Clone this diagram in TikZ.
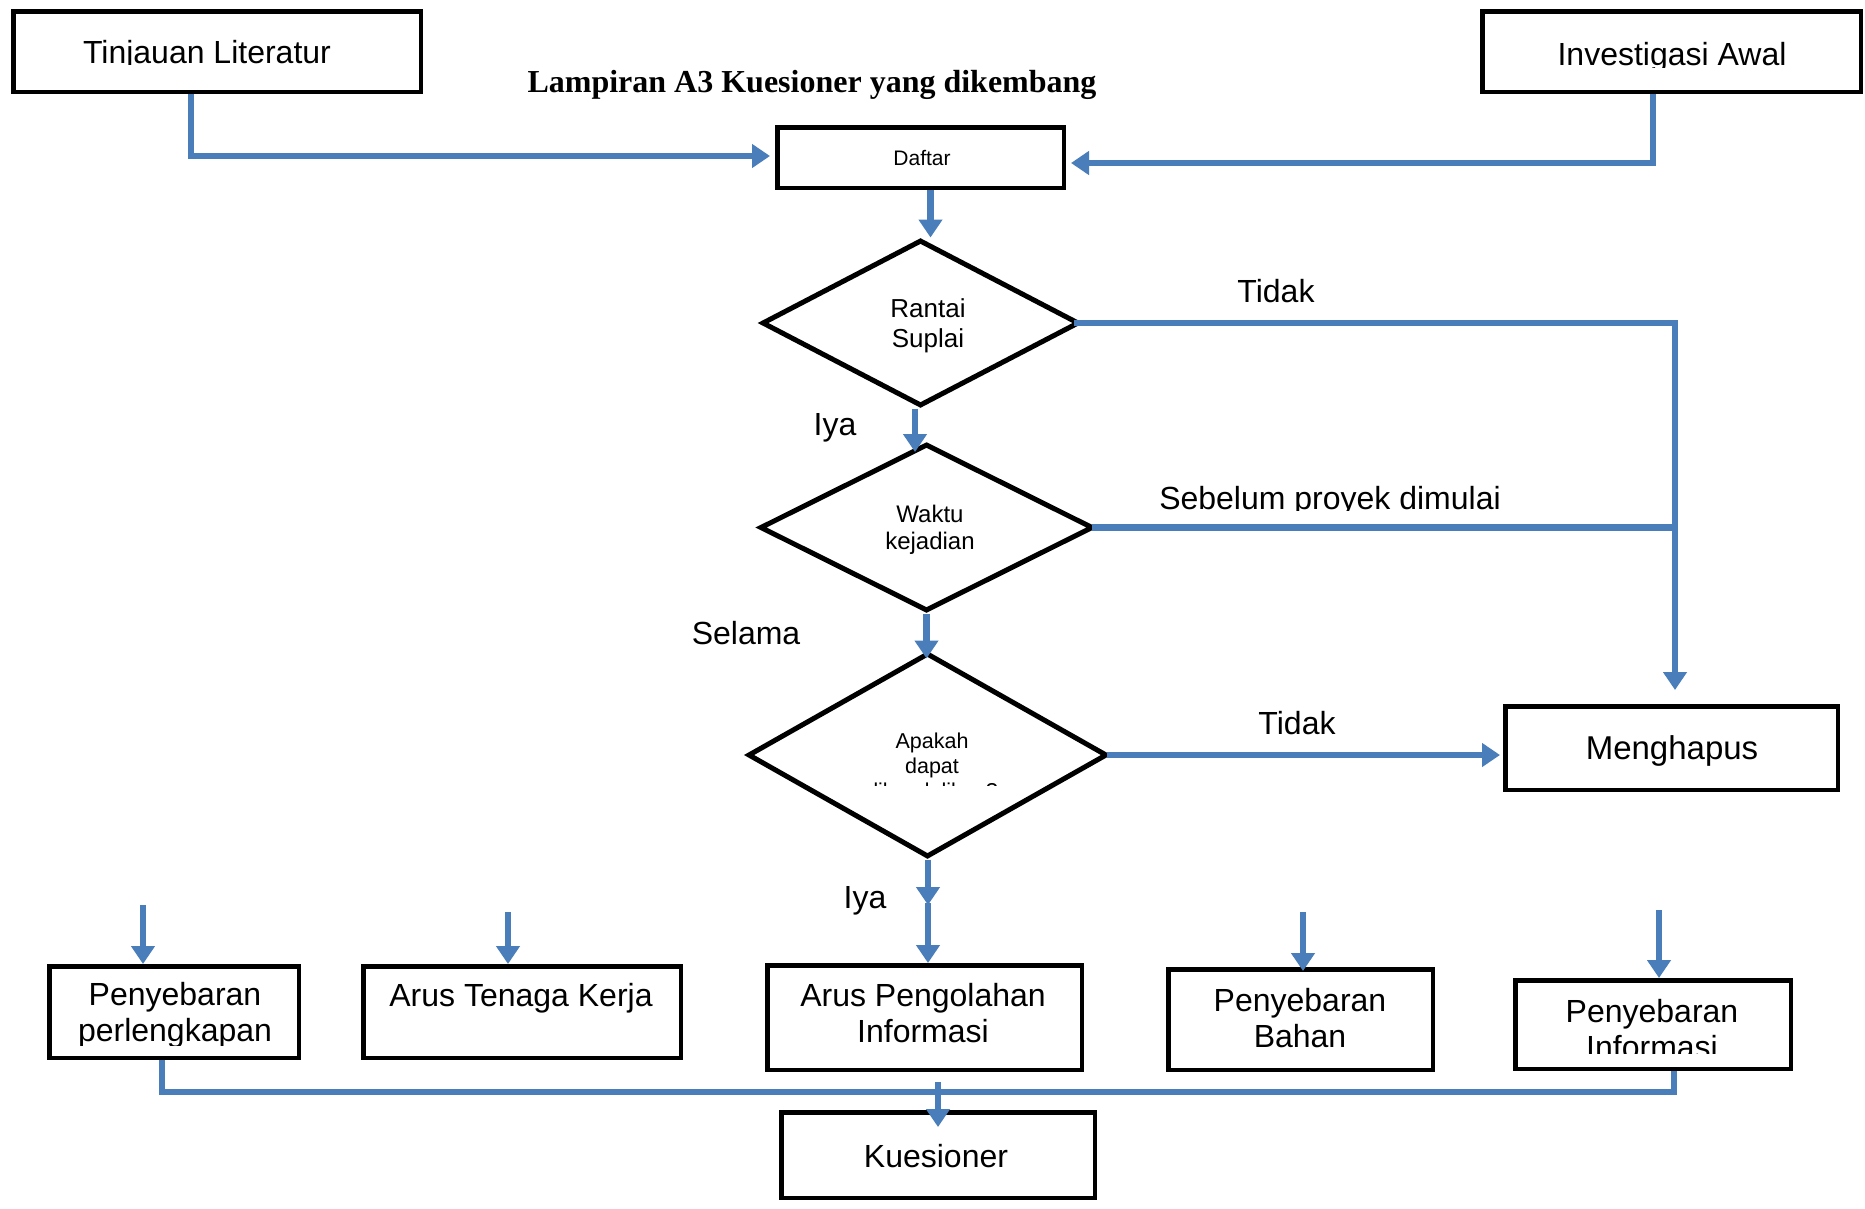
\documentclass[tikz,border=0pt]{standalone}
\usepackage{fontspec}
\setmainfont{Liberation Sans}
\newfontfamily\titlefont{Liberation Serif}
\usetikzlibrary{arrows.meta,shapes.geometric}
\definecolor{flowblue}{RGB}{74,126,187}
\begin{document}
\begin{tikzpicture}[x=1pt,y=-1pt,
  box/.style={draw=black,line width=4.5pt,rectangle,inner sep=0pt},
  dec/.style={draw=black,line width=5pt,diamond,inner sep=0pt},
  txt/.style={inner sep=0pt,align=center,anchor=base},
  big/.style={font=\fontsize{32}{36}\selectfont},
  flow/.style={draw=flowblue,line width=6.5pt},
  arr/.style={flow,-{Triangle[length=18pt,width=23pt]}},
]
\fill[white] (0,0) rectangle (1865,1208);
\useasboundingbox (0,0) rectangle (1865,1208);

% ---------- boxes ----------
\node[box,minimum width=407.5pt,minimum height=80.5pt] (tin) at (217,51.5) {};
\node[box,minimum width=378.5pt,minimum height=80.5pt] (inv) at (1671.5,51.5) {};
\node[box,minimum width=286.5pt,minimum height=60.5pt] (daftar) at (920.5,157.5) {};
\node[box,minimum width=332.5pt,minimum height=83.5pt] (men) at (1671.5,748) {};
\node[box,minimum width=249.5pt,minimum height=91.5pt] (pp) at (174,1012) {};
\node[box,minimum width=317.5pt,minimum height=91.5pt] (atk) at (522,1012) {};
\node[box,minimum width=314.5pt,minimum height=104.5pt] (apb) at (924.5,1017.5) {};
\node[box,minimum width=264.5pt,minimum height=100.5pt] (pb) at (1300.5,1019.5) {};
\node[box,minimum width=275.5pt,minimum height=88.5pt] (pi) at (1653,1024.5) {};
\node[box,minimum width=313.5pt,minimum height=85.5pt] (kue) at (938,1155) {};

% ---------- decisions ----------
\node[dec,minimum width=317pt,minimum height=166pt] (d1) at (920.5,323) {};
\node[dec,minimum width=333pt,minimum height=167pt] (d2) at (926.5,527.5) {};
\node[dec,minimum width=359pt,minimum height=204pt] (d3) at (927.5,755) {};

% ---------- texts (base anchor = baseline of the last line) ----------
\node[inner sep=0pt,anchor=base,font=\titlefont\bfseries\fontsize{32}{36}\selectfont] (title) at (812,92) {Lampiran A3 Kuesioner yang dikembang};

\begin{scope}
\clip (15,15) rectangle (420,64.5);
\node[txt,big] (tint) at (207,63) {Tinjauan Literatur};
\end{scope}
\begin{scope}
\clip (1485,15) rectangle (1860,67);
\node[txt,big] (invt) at (1672,65) {Investigasi Awal};
\end{scope}
\node[txt,font=\fontsize{21}{25}\selectfont] (daftart) at (922,165) {Daftar};
\node[txt,font=\fontsize{26}{30}\selectfont] (d1t) at (928,347) {Rantai\\Suplai};
\node[txt,font=\fontsize{24}{27}\selectfont] (d2t) at (930,549) {Waktu\\kejadian};
\begin{scope}
\clip (760,700) rectangle (1100,785);
\node[txt,font=\fontsize{21.5}{25}\selectfont] (d3t) at (932,798) {Apakah\\dapat\\dikendalikan?};
\end{scope}

\node[txt,big] (tidak1) at (1276,302) {Tidak};
\begin{scope}
\clip (1100,470) rectangle (1600,510);
\node[txt,big] (sebelum) at (1330,509) {Sebelum proyek dimulai};
\end{scope}
\node[txt,big] (tidak2) at (1297,734) {Tidak};
\node[txt,big] (iya1) at (835,435) {Iya};
\node[txt,big] (selama) at (746,644) {Selama};
\node[txt,big] (iya2) at (865,908) {Iya};

\begin{scope}
\clip (1510,710) rectangle (1835,765);
\node[txt,font=\fontsize{33}{36}\selectfont] (ment) at (1672,759) {Menghapus};
\end{scope}
\begin{scope}
\clip (52,968) rectangle (296,1045);
\node[txt,big] (ppt) at (175,1041) {Penyebaran\\perlengkapan};
\end{scope}
\node[txt,big] (atkt) at (521,1006) {Arus Tenaga Kerja};
\node[txt,big] (apbt) at (923,1042) {Arus Pengolahan\\Informasi};
\node[txt,big] (pbt) at (1300,1047) {Penyebaran\\Bahan};
\begin{scope}
\clip (1518,983) rectangle (1788,1053);
\node[txt,big] (pit) at (1652,1058) {Penyebaran\\Informasi};
\end{scope}
\node[txt,big] (kuet) at (936,1167) {Kuesioner};

% ---------- connectors ----------
\coordinate (tinturn) at (191,156);
\draw[arr,shorten >=5pt] (tin.south -| tinturn) -- (tinturn) -- (daftar.west |- tinturn);
\coordinate (invturn) at (1653,163);
\draw[arr,shorten >=5pt] (inv.south -| invturn) -- (invturn) -- (daftar.east |- invturn);
\draw[arr] ([xshift=10pt]daftar.south) -- ([xshift=10pt]daftar.south |- d1.north);

\coordinate (mtop) at (1675,690);
\draw[arr] ([xshift=-8pt]d1.east) -| (mtop);
\draw[flow] ([xshift=-4pt]d2.east) -- (d2.east -| mtop);

\coordinate (iyaend) at (915,452);
\draw[arr] (d1.south -| iyaend) -- (iyaend);
\draw[arr,shorten >=-8pt] (d2.south) -- (d2.south |- d3.north);
\draw[arr,shorten >=3pt] ([xshift=-3pt]d3.east) -- (d3.east -| men.west);

\coordinate (iyamid) at (928,905);
\draw[arr] (d3.south -| iyamid) -- (iyamid);
\draw[arr] ([yshift=2pt]iyamid) -- (iyamid |- apb.north);

\coordinate (ppin) at (143,905);
\draw[arr] (ppin) -- (ppin |- pp.north);
\coordinate (atkin) at (508,912);
\draw[arr] (atkin) -- (atkin |- atk.north);
\coordinate (pbin) at (1303,912);
\draw[arr,shorten >=-4pt] (pbin) -- (pbin |- pb.north);
\coordinate (piin) at (1659,910);
\draw[arr] (piin) -- (piin |- pi.north);

\coordinate (busl) at (162,1092);
\coordinate (busr) at (1674,1092);
\draw[flow] (pp.south -| busl) -- (busl) -- (busr) -- (pi.south -| busr);
\coordinate (kuein) at (938,1082);
\draw[arr] (kuein) -- ([yshift=-17pt]kue.north);
\end{tikzpicture}
\end{document}
